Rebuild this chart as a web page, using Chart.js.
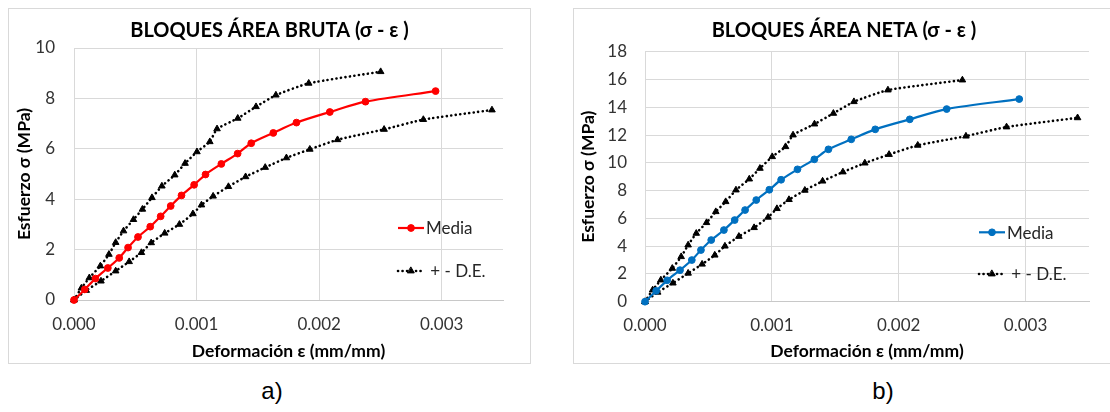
<!DOCTYPE html>
<html>
<head>
<meta charset="utf-8">
<script src="https://cdn.jsdelivr.net/npm/chart.js@4.4.0/dist/chart.umd.min.js"></script>
<style>
  body { margin: 0; background: #fff; width: 1110px; height: 412px; overflow: hidden; position: relative; }
  .box { position: absolute; top: 8px; height: 356px; border: 1px solid #d9d9d9; box-sizing: border-box; background: #fff; }
  .box canvas { display: block; }
  .cap { position: absolute; top: 377px; width: 100px; text-align: center; font-family: "Liberation Sans", Arial, sans-serif; font-size: 24px; line-height: 28px; color: #000; }
</style>
</head>
<body>
<div class="box" style="left:8px;width:523px"><canvas id="bruta" width="521" height="354"></canvas></div>
<div class="box" style="left:573px;width:545px"><canvas id="neta" width="543" height="354"></canvas></div>
<div class="cap" style="left:222px">a)</div>
<div class="cap" style="left:833px">b)</div>
<script>
// strain (mm/mm), same specimens for both charts
const strainMedia = [0, 0.000088, 0.000175, 0.000276, 0.000369, 0.000441, 0.000522, 0.000622, 0.000707, 0.000789, 0.000877,
  0.00098, 0.001073, 0.001202, 0.001335, 0.001446, 0.001626, 0.001815, 0.002087, 0.002378, 0.00295];
const strainUpper = [0, 0.00006, 0.000125, 0.000215, 0.000285, 0.00034, 0.000404, 0.000485, 0.000558, 0.000636, 0.000717,
  0.000822, 0.000906, 0.001003, 0.001108, 0.001167, 0.001336, 0.001485, 0.001647, 0.001915, 0.002502];
const strainLower = [0, 0.0001, 0.00022, 0.00034, 0.00045, 0.00055, 0.00063, 0.00074, 0.00086, 0.00097, 0.00104,
  0.001135, 0.00126, 0.0014, 0.00156, 0.001733, 0.001924, 0.00215, 0.00253, 0.00285, 0.00341];

// stress (MPa) - area bruta
const stressMediaBruta = [0, 0.42, 0.85, 1.27, 1.67, 2.08, 2.5, 2.91, 3.32, 3.73, 4.15, 4.57, 4.98, 5.4, 5.81, 6.22, 6.63, 7.04, 7.46, 7.87, 8.29];
const stressUpperBruta = [0, 0.47, 0.88, 1.35, 1.81, 2.28, 2.74, 3.19, 3.6, 4.06, 4.52, 4.96, 5.42, 5.88, 6.28, 6.79, 7.21, 7.67, 8.13, 8.6, 9.06];
const stressLowerBruta = [0, 0.38, 0.75, 1.15, 1.52, 1.88, 2.27, 2.65, 3.0, 3.42, 3.77, 4.12, 4.5, 4.89, 5.26, 5.64, 5.98, 6.36, 6.77, 7.16, 7.54];

// stress (MPa) - area neta
const stressMediaNeta = [0, 0.78, 1.54, 2.27, 3.0, 3.72, 4.44, 5.16, 5.88, 6.6, 7.32, 8.06, 8.78, 9.53, 10.25, 10.97, 11.69, 12.41, 13.13, 13.87, 14.59];
const stressUpperNeta = [0, 0.84, 1.56, 2.4, 3.24, 4.08, 4.92, 5.69, 6.48, 7.2, 8.04, 8.83, 9.6, 10.44, 11.16, 12.0, 12.79, 13.56, 14.4, 15.24, 15.96];
const stressLowerNeta = [0, 0.68, 1.34, 2.05, 2.7, 3.35, 4.0, 4.7, 5.33, 6.08, 6.7, 7.35, 8.02, 8.68, 9.34, 9.98, 10.6, 11.26, 11.92, 12.58, 13.24];

// tick labels
const xTicks = [0, 0.001, 0.002, 0.003];
const yTicksBruta = [0, 2, 4, 6, 8, 10];
const yTicksNeta = [0, 2, 4, 6, 8, 10, 12, 14, 16, 18];

const FONT = 'Lato, "Open Sans", sans-serif';

function pts(xs, ys) {
  return xs.map((x, i) => ({ x: x, y: ys[i] }));
}

// chart title, drawn where Excel put it (not centred on the canvas)
const topTitle = {
  id: 'topTitle',
  afterDraw(chart, args, opts) {
    const ctx = chart.ctx;
    ctx.save();
    ctx.fillStyle = '#000';
    ctx.font = 'bold 20px ' + FONT;
    ctx.textAlign = 'center';
    ctx.textBaseline = 'middle';
    ctx.fillText(opts.text, opts.x, opts.y);
    ctx.restore();
  }
};

// legend drawn inside the plot, lower right
const innerLegend = {
  id: 'innerLegend',
  afterDatasetsDraw(chart, args, opts) {
    const ctx = chart.ctx;
    const a = chart.chartArea;
    const x0 = a.right + opts.dx;
    const items = [chart.data.datasets[0], chart.data.datasets[1]];
    const rows = [a.top + opts.y1, a.top + opts.y2];
    ctx.save();
    items.forEach((ds, i) => {
      const y = rows[i];
      ctx.strokeStyle = ds.borderColor;
      ctx.lineWidth = ds.borderWidth;
      ctx.lineCap = ds.borderCapStyle || 'butt';
      ctx.setLineDash(ds.borderDash || []);
      ctx.beginPath();
      ctx.moveTo(x0, y);
      ctx.lineTo(x0 + opts.len, y);
      ctx.stroke();
      ctx.setLineDash([]);
      ctx.fillStyle = ds.pointBackgroundColor;
      ctx.strokeStyle = ds.pointBorderColor;
      ctx.lineWidth = 1;
      Chart.helpers.drawPoint(ctx, { pointStyle: ds.pointStyle, radius: ds.pointRadius, borderWidth: 1, rotation: 0 }, x0 + opts.len / 2, y);
      ctx.fillStyle = '#262626';
      ctx.font = '17px ' + FONT;
      ctx.textBaseline = 'middle';
      ctx.textAlign = 'left';
      ctx.fillText(ds.label, x0 + opts.len + 2, y + 1);
    });
    ctx.restore();
  }
};

function makeChart(id, c) {
  const dotted = {
    borderColor: '#000',
    borderWidth: 2.6,
    borderDash: [0.1, 4.4],
    borderCapStyle: 'round',
    pointStyle: 'triangle',
    pointRadius: 3.8,
    pointBackgroundColor: '#000',
    pointBorderColor: '#000',
    pointBorderWidth: 1,
    tension: 0.15,
    showLine: true,
    clip: false
  };
  new Chart(document.getElementById(id), {
    type: 'scatter',
    data: {
      datasets: [
        {
          label: 'Media',
          data: pts(strainMedia, c.media),
          borderColor: c.color,
          borderWidth: 2.2,
          pointStyle: 'circle',
          pointRadius: 3.4,
          pointBackgroundColor: c.color,
          pointBorderColor: c.color,
          pointBorderWidth: 1,
          tension: 0.3,
          showLine: true,
          clip: false
        },
        Object.assign({ label: ' + - D.E.', data: pts(strainUpper, c.upper) }, dotted),
        Object.assign({ label: ' + - D.E.', data: pts(strainLower, c.lower) }, dotted)
      ]
    },
    options: {
      responsive: false,
      animation: false,
      layout: { padding: { left: 0, right: c.padRight, top: c.padTop, bottom: 0 } },
      plugins: {
        legend: { display: false },
        tooltip: { enabled: false },
        title: { display: false },
        topTitle: c.title,
        innerLegend: c.legend
      },
      scales: {
        x: {
          type: 'linear',
          min: 0,
          max: 0.0035,
          afterBuildTicks: s => { s.ticks = xTicks.map(v => ({ value: v })); },
          afterFit: s => { s.height = c.xHeight; },
          grid: { color: '#d9d9d9', drawTicks: false },
          border: { color: '#c8c8c8' },
          ticks: {
            padding: c.xTickPad,
            color: '#333',
            font: { family: FONT, size: 17 },
            callback: v => v.toFixed(3)
          },
          title: {
            display: true,
            text: 'Deformación ε (mm/mm)',
            color: '#000',
            font: { family: FONT, size: 17.5, weight: 'bold' },
            padding: { top: 0, bottom: 0.8 }
          }
        },
        y: {
          type: 'linear',
          min: 0,
          max: c.yTicks[c.yTicks.length - 1],
          afterBuildTicks: s => { s.ticks = c.yTicks.map(v => ({ value: v })); },
          afterFit: s => { s.width = c.yWidth; },
          grid: { color: '#d9d9d9', drawTicks: false },
          border: { color: '#d9d9d9' },
          ticks: {
            padding: c.yTickPad,
            color: '#333',
            font: { family: FONT, size: 17 },
            callback: v => String(v)
          },
          title: {
            display: true,
            text: 'Esfuerzo σ (MPa)',
            color: '#000',
            font: { family: FONT, size: 17.5, weight: 'bold' },
            padding: { top: c.yTitlePad, bottom: 0 }
          }
        }
      }
    },
    plugins: [topTitle, innerLegend]
  });
}

makeChart('bruta', {
  title: { text: 'BLOQUES ÁREA BRUTA (σ - ε )', x: 260.5, y: 21.5 },
  color: '#ff0000',
  media: stressMediaBruta,
  upper: stressUpperBruta,
  lower: stressLowerBruta,
  yTicks: yTicksBruta,
  padRight: 27,
  padTop: 39,
  xHeight: 63,
  yWidth: 65,
  xTickPad: 14.8,
  yTickPad: 19,
  yTitlePad: 4.5,
  legend: { dx: -105, y1: 180, y2: 223, len: 26 }
});

makeChart('neta', {
  title: { text: 'BLOQUES ÁREA NETA (σ - ε )', x: 270, y: 21.5 },
  color: '#0070c0',
  media: stressMediaNeta,
  upper: stressUpperNeta,
  lower: stressLowerNeta,
  yTicks: yTicksNeta,
  padRight: 28,
  padTop: 42.7,
  xHeight: 61.3,
  yWidth: 71,
  xTickPad: 13.8,
  yTickPad: 18,
  yTitlePad: 3.5,
  legend: { dx: -110, y1: 180.6, y2: 222.3, len: 26 }
});
</script>
</body>
</html>
